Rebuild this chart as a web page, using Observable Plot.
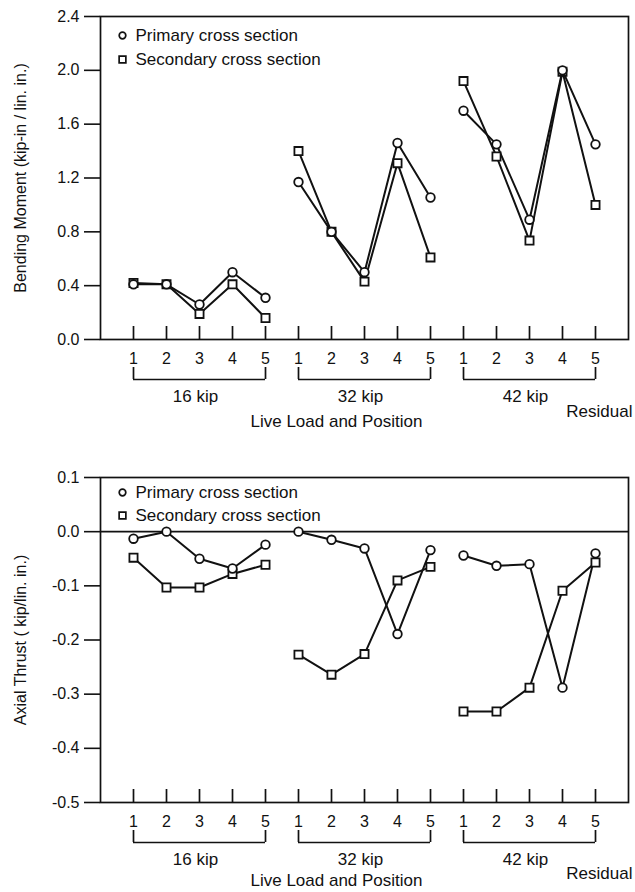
<!DOCTYPE html>
<html><head><meta charset="utf-8">
<script src="https://cdn.jsdelivr.net/npm/d3@7"></script>
<script src="https://cdn.jsdelivr.net/npm/@observablehq/plot@0.6"></script>
<style>
body{margin:0;background:#fff;}
#chart{width:635px;}
svg{display:block;}
</style></head><body><div id="chart"></div>
<script>
// ---- data ----
const loads = ["16 kip", "32 kip", "42 kip"];
const positions = [1, 2, 3, 4, 5];
const series = ["Primary cross section", "Secondary cross section"];
const momentPrimary   = [0.41, 0.41, 0.26, 0.50, 0.31,  1.17, 0.80, 0.50, 1.46, 1.055,  1.70, 1.45, 0.89, 2.00, 1.45];
const momentSecondary = [0.42, 0.41, 0.19, 0.41, 0.16,  1.40, 0.80, 0.43, 1.31, 0.61,   1.92, 1.36, 0.735, 1.99, 1.00];
const thrustPrimary   = [-0.013, 0.0, -0.050, -0.068, -0.024,  0.0, -0.015, -0.031, -0.189, -0.034,  -0.044, -0.063, -0.060, -0.288, -0.040];
const thrustSecondary = [-0.048, -0.103, -0.103, -0.078, -0.061,  -0.227, -0.264, -0.226, -0.090, -0.065,  -0.332, -0.332, -0.288, -0.109, -0.057];
const momentTicks = [0.0, 0.4, 0.8, 1.2, 1.6, 2.0, 2.4];
const thrustTicks = [-0.5, -0.4, -0.3, -0.2, -0.1, 0.0, 0.1];
const momentTitle = "Bending Moment (kip-in / lin. in.)";
const thrustTitle = "Axial Thrust ( kip/lin. in.)";
const xTitle = "Live Load and Position";
const residualLabel = "Residual";

// ---- derived tables ----
const slots = [];
loads.forEach((load, g) => positions.forEach((p, j) => slots.push({slot: g * positions.length + j + 1, load, pos: p})));
const groups = loads.map((load, g) => ({
  load,
  start: g * positions.length + 1,
  end: (g + 1) * positions.length,
  center: g * positions.length + (positions.length + 1) / 2
}));
const bracketEnds = groups.flatMap(g => [g.start, g.end]);
const xMax = slots.length + 1;

function records(primary, secondary) {
  const out = [];
  slots.forEach((s, i) => {
    out.push({...s, series: series[0], value: primary[i]});
    out.push({...s, series: series[1], value: secondary[i]});
  });
  return out;
}

const INK = "#111";
const FONT = "'Liberation Sans', Arial, Helvetica, sans-serif";

function chart({height, marginTop, marginBottom, ticks, title, data, zeroLine, legendTop, legendGap, titleDy, residualDy}) {
  const yMin = ticks[0], yMax = ticks[ticks.length - 1];
  const marks = [
    Plot.frame({stroke: INK, strokeWidth: 1.7}),
    Plot.axisY(ticks, {tickSize: 16, tickPadding: 5, tickFormat: d => d.toFixed(1), fontSize: 16, label: null, stroke: INK, strokeWidth: 1.6}),
    Plot.text([title], {frameAnchor: "left", textAnchor: "middle", lineAnchor: "middle", rotate: -90, dx: -80, fontSize: 16, fill: INK}),
    // inward x ticks
    Plot.ruleX(slots, {x: "slot", y1: () => yMin, y2: () => yMin, insetTop: -13, stroke: INK, strokeWidth: 1.7}),
    Plot.text(slots, {x: "slot", text: d => String(d.pos), frameAnchor: "bottom", lineAnchor: "middle", dy: 19, fontSize: 16, fill: INK}),
    // brackets
    Plot.ruleY(groups, {x1: "start", x2: "end", y: () => yMin, dy: 40, stroke: INK, strokeWidth: 1.7}),
    Plot.ruleX(bracketEnds, {x: d => d, y1: () => yMin, y2: () => yMin, insetTop: -12, dy: 40, stroke: INK, strokeWidth: 1.7}),
    Plot.text(groups, {x: "center", text: "load", frameAnchor: "bottom", lineAnchor: "middle", dy: 57, dx: -4, fontSize: 17, fill: INK}),
    Plot.text([residualLabel], {x: () => xMax, frameAnchor: "bottom", lineAnchor: "middle", textAnchor: "end", dx: 4, dy: residualDy, fontSize: 17, fill: INK}),
    Plot.text([xTitle], {x: () => groups[1].center, frameAnchor: "bottom", lineAnchor: "middle", dy: titleDy, dx: -28, fontSize: 17, fill: INK})
  ];
  if (zeroLine) marks.push(Plot.ruleY([0], {stroke: INK, strokeWidth: 1.7}));
  marks.push(
    Plot.line(data, {x: "slot", y: "value", z: d => d.series + "|" + d.load, stroke: INK, strokeWidth: 2}),
    Plot.dot(data.filter(d => d.series === series[1]), {x: "slot", y: "value", symbol: "square", r: 4.6, fill: "white", stroke: INK, strokeWidth: 1.8}),
    Plot.dot(data.filter(d => d.series === series[0]), {x: "slot", y: "value", symbol: "circle", r: 4.3, fill: "white", stroke: INK, strokeWidth: 1.8})
  );
  series.forEach((s, i) => {
    marks.push(
      Plot.dot([s], {frameAnchor: "top-left", dx: 22, dy: legendTop + legendGap * i, symbol: i === 0 ? "circle" : "square", r: i === 0 ? 3.3 : 3.8, fill: "white", stroke: INK, strokeWidth: 1.7}),
      Plot.text([s], {frameAnchor: "top-left", lineAnchor: "middle", dx: 35, dy: legendTop + legendGap * i, textAnchor: "start", fontSize: 17, fill: INK})
    );
  });
  return Plot.plot({
    width: 635,
    height,
    marginTop,
    marginBottom,
    marginLeft: 100,
    marginRight: 7,
    style: {fontFamily: FONT, fontSize: "16px", color: INK, background: "white", overflow: "visible"},
    x: {domain: [0, xMax], axis: null},
    y: {domain: [yMin, yMax], axis: null},
    marks
  });
}

const root = document.getElementById("chart");
root.appendChild(chart({height: 440, marginTop: 16, marginBottom: 101, ticks: momentTicks, title: momentTitle, data: records(momentPrimary, momentSecondary), zeroLine: false, legendTop: 19, legendGap: 24, titleDy: 82, residualDy: 72}));
root.appendChild(chart({height: 452, marginTop: 37, marginBottom: 90, ticks: thrustTicks, title: thrustTitle, data: records(thrustPrimary, thrustSecondary), zeroLine: true, legendTop: 15, legendGap: 23, titleDy: 78, residualDy: 71}));
</script>
</body></html>
